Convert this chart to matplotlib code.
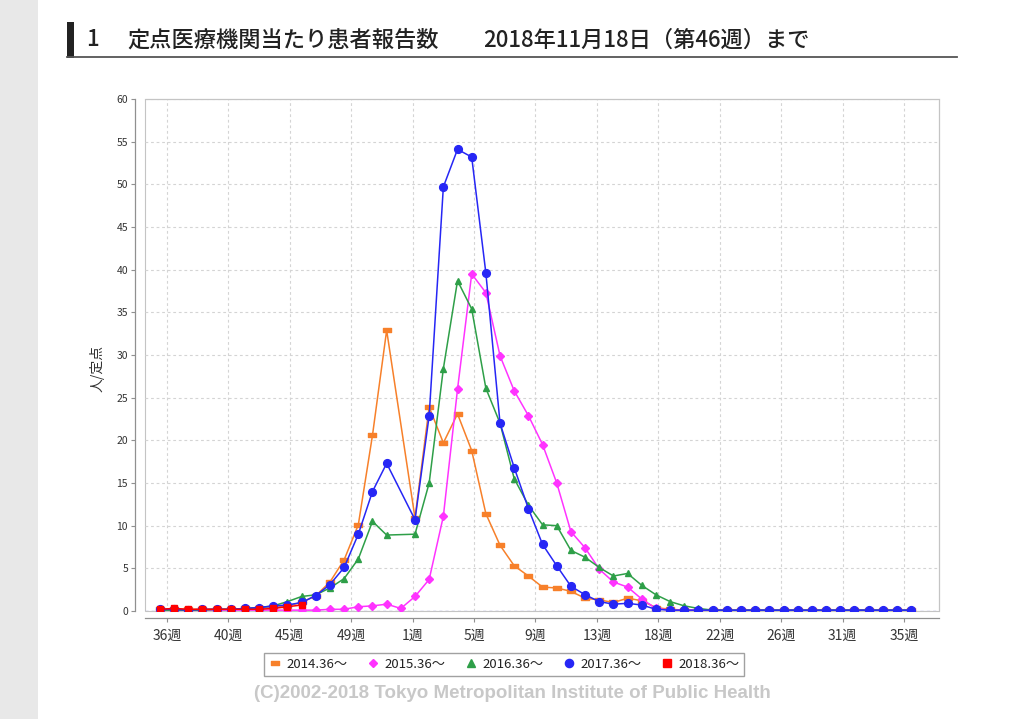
import numpy as np
import matplotlib
matplotlib.use('Agg')
import matplotlib.pyplot as plt
from matplotlib.path import Path
from matplotlib.lines import Line2D
from matplotlib.patches import Rectangle

plt.rcParams['font.family'] = ['Noto Sans CJK JP', 'DejaVu Sans']

N = None
# week slots on the x axis (slot 17 = week 53)
weeks = list(range(36, 54)) + list(range(1, 37))

tick_labels = ['36週', '40週', '45週', '49週', '1週', '5週', '9週', '13週',
               '18週', '22週', '26週', '31週', '35週']

series_names = ['2014.36～', '2015.36～', '2016.36～', '2017.36～', '2018.36～']

s2014 = [0.2, 0.2, 0.2, 0.2, 0.2, 0.2, 0.3, 0.3, 0.4, 0.6, 1.0,
         1.8, 3.4, 6.0, 10.1, 20.6, 32.9,
         N,
         10.9, 23.9, 19.7, 23.1, 18.8, 11.4, 7.7, 5.3, 4.1,
         2.8, 2.7, 2.3, 1.5, 1.3, 1.0, 1.5, 1.2, 0.4, 0.2] + [0.1] * 17

s2015 = [0.1] * 12 + [0.2, 0.2, 0.5, 0.6, 0.8, 0.3, 1.7, 3.7,
         11.1, 26.0, 39.5, 37.3, 29.9, 25.8, 22.9, 19.5, 15.0, 9.3,
         7.4, 4.9, 3.4, 2.8, 1.4, 0.3, 0.1] + [0.1] * 17

s2016 = [0.1, 0.1, 0.1, 0.1, 0.2, 0.2, 0.3, 0.4, 0.6,
         1.1, 1.7, 1.9, 2.7, 3.8, 6.1, 10.5, 8.9,
         N,
         9.0, 15.0, 28.4, 38.7, 35.4, 26.1, 22.0, 15.5, 12.4,
         10.1, 10.0, 7.1, 6.3, 5.1, 4.1, 4.4, 3.0, 1.9, 1.1, 0.6, 0.3] + [0.1] * 15

s2017 = [0.2, 0.2, 0.1, 0.2, 0.2, 0.2, 0.3, 0.4, 0.6, 0.7, 1.0,
         1.8, 3.1, 5.1, 9.0, 14.0, 17.3,
         N,
         10.7, 22.9, 49.7, 54.1, 53.2, 39.6, 22.0, 16.8, 12.0,
         7.8, 5.3, 2.9, 1.9, 1.1, 0.8, 0.9, 0.7, 0.2] + [0.1] * 18

s2018 = [0.2, 0.3, 0.2, 0.2, 0.2, 0.2, 0.2, 0.2, 0.3, 0.5, 0.7]

# ---- styles ----
bar_marker = Path([(-1, -0.42), (1, -0.42), (1, 0.42), (-1, 0.42), (-1, -0.42)],
                  [Path.MOVETO, Path.LINETO, Path.LINETO, Path.LINETO, Path.CLOSEPOLY])
styles = [
    dict(color='#F7802A', marker=bar_marker, ms=5.2),
    dict(color='#FF33FF', marker='D', ms=3.6),
    dict(color='#2E9F48', marker='^', ms=4.8),
    dict(color='#2626F5', marker='o', ms=5.6),
    dict(color='#FF0000', marker='s', ms=5.0),
]

fig = plt.figure(figsize=(10.24, 7.19), dpi=100)
fig.patch.set_facecolor('white')
W, H = 1024, 719

def fx(px):
    return px / W

def fy(py):
    return 1 - py / H

# grey page margin on the left
fig.patches.append(Rectangle((0, 0), fx(38), 1, transform=fig.transFigure,
                             facecolor='#e8e8e8', edgecolor='none', zorder=0))
# title bar and underline
fig.patches.append(Rectangle((fx(67), fy(58)), fx(7), fy(22) - fy(58),
                             transform=fig.transFigure, facecolor='#222222',
                             edgecolor='none'))
fig.lines.append(Line2D([fx(67), fx(957)], [fy(57), fy(57)],
                        transform=fig.transFigure, color='#555555', lw=1.3))
title_kw = dict(fontsize=16, fontweight='medium', color='#222222',
                va='center', ha='left')
fig.text(fx(86), fy(40), '1', **title_kw)
fig.text(fx(127), fy(40), '定点医療機関当たり患者報告数', **title_kw)
fig.text(fx(483), fy(40), '2018年11月18日（第46週）まで', **title_kw)

ax = fig.add_axes([fx(145), 1 - 611 / H, 794 / W, 512 / H])
ax.set_facecolor('white')

all_series = [s2014, s2015, s2016, s2017, s2018]
for vals, name, st in zip(all_series, series_names, styles):
    xs = [i for i, v in enumerate(vals) if v is not None]
    ys = [v for v in vals if v is not None]
    ax.plot(xs, ys, color=st['color'], lw=1.1, marker=st['marker'],
            ms=st['ms'], mec=st['color'], mfc=st['color'], label=name,
            zorder=3)

ax.set_xlim(-1.05, len(weeks) + 0.97)
ax.set_ylim(0, 60)
ax.set_yticks(np.arange(0, 61, 5))
tick_pos = np.linspace(0.5, 52.5, len(tick_labels))
ax.set_xticks(tick_pos)
ax.set_xticklabels(tick_labels, fontsize=8.3)
for lab in ax.get_yticklabels():
    lab.set_fontfamily('DejaVu Sans')
ax.tick_params(axis='y', labelsize=7.5, length=3, color='#909090',
               labelcolor='#333333', pad=2)
ax.tick_params(axis='x', length=3, color='#909090', labelcolor='#333333', pad=5)

ax.grid(True, color='#d4d4d4', lw=0.8, ls=(0, (2.5, 2.5)), zorder=1)
ax.axhline(0, color='#7f7fd0', lw=0.9, ls=(0, (2.5, 2.5)), zorder=2)

for side in ['top', 'right']:
    ax.spines[side].set_color('#c4c4c4')
    ax.spines[side].set_linewidth(0.8)
ax.spines['left'].set_position(('outward', 7.2))
ax.spines['bottom'].set_position(('outward', 5))
for side in ['left', 'bottom']:
    ax.spines[side].set_color('#909090')
    ax.spines[side].set_linewidth(0.9)
ax.add_patch(Rectangle((0, 0), 1, 1, transform=ax.transAxes, fill=False,
                       edgecolor='#c4c4c4', lw=0.8, clip_on=False, zorder=0))

fig.text(fx(97), fy(368), '人/定点', rotation=90, fontsize=10, color='#333333',
         va='center', ha='center')

handles = [Line2D([], [], ls='none', marker=st['marker'], ms=st['ms'] + 0.3,
                  color=st['color']) for st in styles]
leg = fig.legend(handles, series_names, loc='center',
                 bbox_to_anchor=(fx(504), fy(664.5)), ncol=5, fontsize=9.5,
                 frameon=True, fancybox=False, edgecolor='#8a8a8a',
                 handlelength=1.0, handletextpad=0.4, columnspacing=1.4,
                 borderpad=0.35, borderaxespad=0)
leg.get_frame().set_linewidth(1.0)
for t in leg.get_texts():
    t.set_color('#222222')

fig.text(fx(512), fy(694), '(C)2002-2018 Tokyo Metropolitan Institute of Public Health',
         fontsize=13.5, fontweight='bold', color='#c8c8c8', ha='center', va='center',
         family=['Liberation Sans', 'DejaVu Sans'])

fig.savefig('out.png', dpi=100, facecolor='white')
